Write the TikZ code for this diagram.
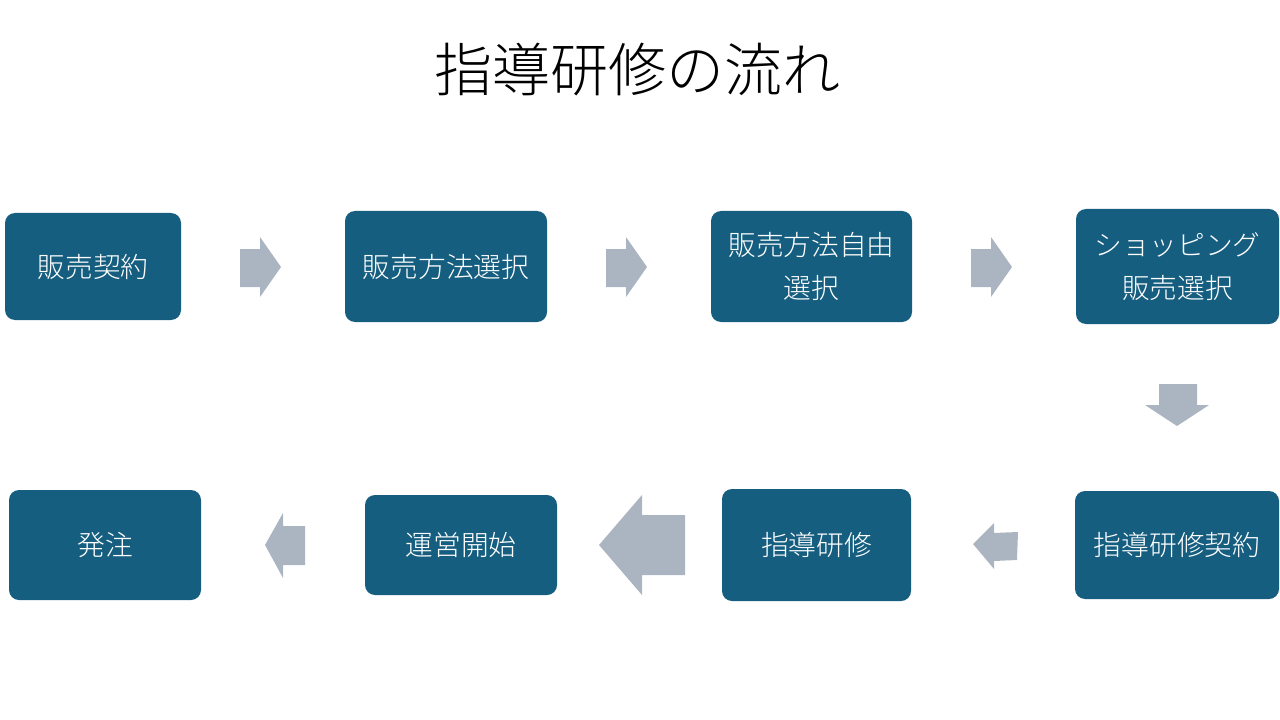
\documentclass[tikz,border=0pt]{standalone}
\usepackage{fontspec}
\setmainfont{Noto Sans CJK JP}[UprightFont=* Light]
\definecolor{boxblue}{RGB}{22,94,128}
\definecolor{arrowgray}{RGB}{171,181,193}
\tikzset{%
  stepbox/.style   = {shape=rectangle, rounded corners=7.5pt, fill=boxblue,%
                      text=white, align=center, inner sep=0pt,%
                      font=\fontsize{20.8}{32}\selectfont},%
  blockarrow/.style = {fill=arrowgray},%
  titletext/.style = {font=\fontsize{43.5}{50}\selectfont, inner sep=0pt}%
}

\begin{document}
\begin{tikzpicture}
  [x=0.75pt, y=-0.75pt]
  \useasboundingbox (0,0) rectangle (1280,720);
  \node [titletext] (title) at (637,70) {指導研修の流れ};
  % upper row
  \node [stepbox, minimum width=132pt,    minimum height=80.25pt] (keiyaku)  at (93,266.5)    {販売契約};
  \node [stepbox, minimum width=151.5pt,  minimum height=83.25pt] (houhou)   at (446,266.5)   {販売方法選択};
  \node [stepbox, minimum width=150.75pt, minimum height=83.25pt] (jiyuu)    at (811.5,266.5) {販売方法自由\\選択};
  \node [stepbox, minimum width=152.25pt, minimum height=86.25pt] (shopping) at (1177.5,266.5) {ショッピング\\販売選択};
  % lower row
  \node [stepbox, minimum width=153pt,    minimum height=81pt]    (kenkeiyaku) at (1177,545) {指導研修契約};
  \node [stepbox, minimum width=141.75pt, minimum height=84pt]    (kenshuu)    at (816.5,545) {指導研修};
  \node [stepbox, minimum width=144pt,    minimum height=75pt]    (unei)       at (461,545)   {運営開始};
  \node [stepbox, minimum width=144pt,    minimum height=82.5pt]  (hacchuu)    at (105,545)   {発注};
  % block arrows, upper row
  \foreach \ax in {0,366,731}
    \fill [blockarrow, xshift=\ax*0.75pt] (240,249) -- (260,249) -- (260,237) -- (281,267)
      -- (260,297) -- (260,287) -- (240,287) -- cycle;
  % down
  \fill [blockarrow] (1159,384) -- (1197,384) -- (1197,405) -- (1209,405) -- (1177,426)
    -- (1145,405) -- (1159,405) -- cycle;
  % lower row, to the left
  \fill [blockarrow] (1018,532) -- (994,533) -- (994,523) -- (973,544) -- (994,569)
    -- (994,561) -- (1017,560) -- cycle;
  \fill [blockarrow] (685,515) -- (642,515) -- (642,495) -- (599,545) -- (642,595)
    -- (642,575) -- (685,575) -- cycle;
  \fill [blockarrow] (305,526) -- (283,526) -- (283,513) -- (265,545) -- (283,578)
    -- (283,565) -- (305,565) -- cycle;
\end{tikzpicture}
\end{document}
